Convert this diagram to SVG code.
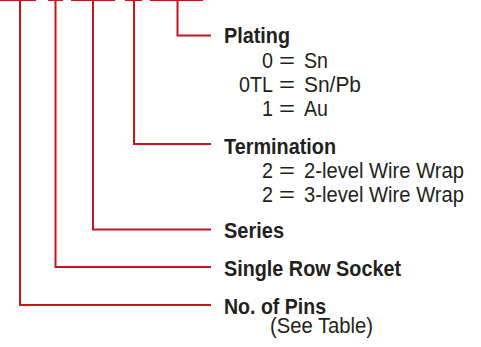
<svg xmlns="http://www.w3.org/2000/svg" width="481" height="347" viewBox="0 0 481 347">
<style>
.c{fill:none;stroke:#c4161c;stroke-width:2;stroke-linecap:butt}
.h{font-family:"Liberation Sans",Arial,sans-serif;font-weight:bold;font-size:22px;fill:#231f20}
.t{font-family:"Liberation Sans",Arial,sans-serif;font-size:22px;fill:#231f20}
</style>
<rect width="481" height="347" fill="#fff"/>
<g id="connectors">
<path class="c" d="M0 0H36M48 0H63M71 0H115M125 0H142M150 0H203"/>
<path class="c" d="M177.5 0V35.5H211"/>
<path class="c" d="M134 0V144H211"/>
<path class="c" d="M93 0V229.5H211"/>
<path class="c" d="M55.5 0V267H211"/>
<path class="c" d="M20 0V305H211"/>
</g>
<g id="plating">
<text class="h" x="224" y="43" textLength="66" lengthAdjust="spacingAndGlyphs">Plating</text>
<text class="t"><tspan x="273" y="67.5" text-anchor="end" textLength="11" lengthAdjust="spacingAndGlyphs">0</tspan><tspan x="279" y="67.5" textLength="16" lengthAdjust="spacingAndGlyphs">=</tspan><tspan x="304" y="67.5" textLength="24" lengthAdjust="spacingAndGlyphs">Sn</tspan></text>
<text class="t"><tspan x="273" y="92" text-anchor="end" textLength="34" lengthAdjust="spacingAndGlyphs">0TL</tspan><tspan x="279" y="92" textLength="16" lengthAdjust="spacingAndGlyphs">=</tspan><tspan x="304" y="92" textLength="57" lengthAdjust="spacingAndGlyphs">Sn/Pb</tspan></text>
<text class="t"><tspan x="273" y="116" text-anchor="end" textLength="11" lengthAdjust="spacingAndGlyphs">1</tspan><tspan x="279" y="116" textLength="16" lengthAdjust="spacingAndGlyphs">=</tspan><tspan x="304" y="116" textLength="24" lengthAdjust="spacingAndGlyphs">Au</tspan></text>
</g>
<g id="termination">
<text class="h" x="224" y="154" textLength="112" lengthAdjust="spacingAndGlyphs">Termination</text>
<text class="t"><tspan x="273" y="178" text-anchor="end" textLength="11" lengthAdjust="spacingAndGlyphs">2</tspan><tspan x="279" y="178" textLength="16" lengthAdjust="spacingAndGlyphs">=</tspan><tspan x="304" y="178" textLength="160" lengthAdjust="spacingAndGlyphs">2-level Wire Wrap</tspan></text>
<text class="t"><tspan x="273" y="202" text-anchor="end" textLength="11" lengthAdjust="spacingAndGlyphs">2</tspan><tspan x="279" y="202" textLength="16" lengthAdjust="spacingAndGlyphs">=</tspan><tspan x="304" y="202" textLength="160" lengthAdjust="spacingAndGlyphs">3-level Wire Wrap</tspan></text>
</g>
<g id="series"><text class="h" x="224" y="238" textLength="60" lengthAdjust="spacingAndGlyphs">Series</text></g>
<g id="single-row-socket"><text class="h" x="224" y="276" textLength="177" lengthAdjust="spacingAndGlyphs">Single Row Socket</text></g>
<g id="no-of-pins">
<text class="h" x="224" y="314" textLength="102" lengthAdjust="spacingAndGlyphs">No. of Pins</text>
<text class="t" x="270" y="333" textLength="103" lengthAdjust="spacingAndGlyphs">(See Table)</text>
</g>
</svg>
